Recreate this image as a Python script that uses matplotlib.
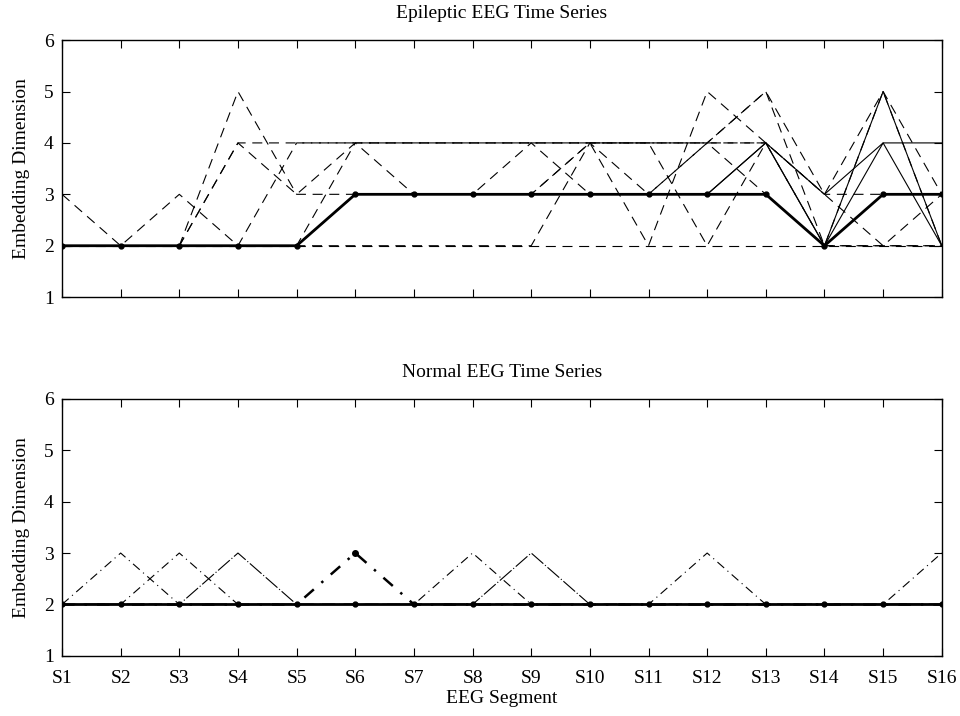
import numpy as np
import matplotlib.pyplot as plt

plt.rcParams['font.family'] = ['Liberation Serif', 'DejaVu Serif']
plt.rcParams['font.size'] = 14

segments = ['S%d' % i for i in range(1, 17)]

# epileptic EEG: median (thick) and individual runs
epi_median = [2, 2, 2, 2, 2, 3, 3, 3, 3, 3, 3, 3, 3, 2, 3, 3]
epi_dashed = [
    [3, 2, 3, 2, 4, 4, 4, 4, 4, 4, 4, 4, 4, 3, 5, 3],
    [2, 2, 2, 5, 3, 3, 3, 3, 4, 3, 3, 4, 5, 3, 2, 3],
    [2, 2, 2, 4, 3, 4, 3, 3, 3, 4, 2, 5, 4, 3, 3, 3],
    [2, 2, 2, 4, 4, 4, 4, 4, 4, 4, 3, 4, 3, 2, 2, 2],
    [2, 2, 2, 2, 2, 4, 4, 4, 4, 4, 4, 4, 5, 2, 5, 2],
    [2, 2, 2, 2, 2, 3, 3, 3, 3, 4, 4, 4, 4, 2, 3, 3],
    [2, 2, 2, 2, 2, 2, 2, 2, 2, 4, 4, 2, 4, 2, 2, 2],
    [2, 2, 2, 2, 2, 2, 2, 2, 2, 2, 2, 2, 2, 2, 2, 2],
]
epi_solid = [
    [2, 2, 2, 2, 2, 3, 3, 3, 3, 3, 3, 3, 4, 2, 5, 2],
    [2, 2, 2, 2, 2, 3, 3, 3, 3, 3, 3, 3, 4, 3, 4, 4],
    [2, 2, 2, 2, 2, 3, 3, 3, 3, 3, 3, 3, 3, 2, 4, 2],
]

# normal EEG
norm_median = [2] * 16
norm_dashdot = [
    [2, 3, 2, 2, 2, 2, 2, 3, 2, 2, 2, 3, 2, 2, 2, 3],
    [2, 2, 3, 2, 2, 2, 2, 2, 2, 2, 2, 2, 2, 2, 2, 2],
]
norm_solid = [2, 2, 2, 3, 2, 2, 2, 2, 3, 2, 2, 2, 2, 2, 2, 2]
norm_bold = [2, 2, 2, 2, 2, 3, 2, 2, 2, 2, 2, 2, 2, 2, 2, 2]

x = np.arange(1, 17)

fig = plt.figure(figsize=(9.6, 7.16), dpi=100)
ax1 = fig.add_axes([0.0646, 0.585, 0.9164, 0.359])
ax2 = fig.add_axes([0.0646, 0.084, 0.9164, 0.359])

for s in epi_dashed:
    ax1.plot(x, s, color='black', lw=0.8, dashes=(9, 6))
for s in epi_solid:
    ax1.plot(x, s, color='black', lw=0.8, ls='-')
ax1.plot(x, epi_median, color='black', lw=2.0, marker='o', ms=3.5)

for s in norm_dashdot:
    ax2.plot(x, s, color='black', lw=0.8, dashes=(8, 4, 1, 4))
ax2.plot(x, norm_solid, color='black', lw=0.8, dashes=(14, 2, 1, 2))
ax2.plot(x, norm_bold, color='black', lw=1.8, dashes=(5, 4, 1, 4))
ax2.plot([6], [norm_bold[5]], 'ko', ms=4)
ax2.plot(x, [2] * 16, color='0.4', lw=1.2, dashes=(8, 5))
ax2.plot(x, norm_median, color='black', lw=2.0, marker='o', ms=3.5)

for ax in (ax1, ax2):
    ax.set_xlim(1, 16)
    ax.set_ylim(1, 6)
    ax.set_xticks(x)
    ax.set_yticks(range(1, 7))
    ax.tick_params(direction='in', top=True, right=True, length=6, width=0.8, pad=6)
    ax.tick_params(axis='x', pad=10)
    ax.set_ylabel('Embedding Dimension', labelpad=10)
    for sp in ax.spines.values():
        sp.set_linewidth(1.0)

ax1.set_xticklabels([])
ax2.set_xticklabels(segments)
ax1.set_title('Epileptic EEG Time Series', fontsize=14, pad=16)
ax2.set_title('Normal EEG Time Series', fontsize=14, pad=16)
ax2.set_xlabel('EEG Segment', labelpad=2)

fig.savefig('out.png', dpi=100)
